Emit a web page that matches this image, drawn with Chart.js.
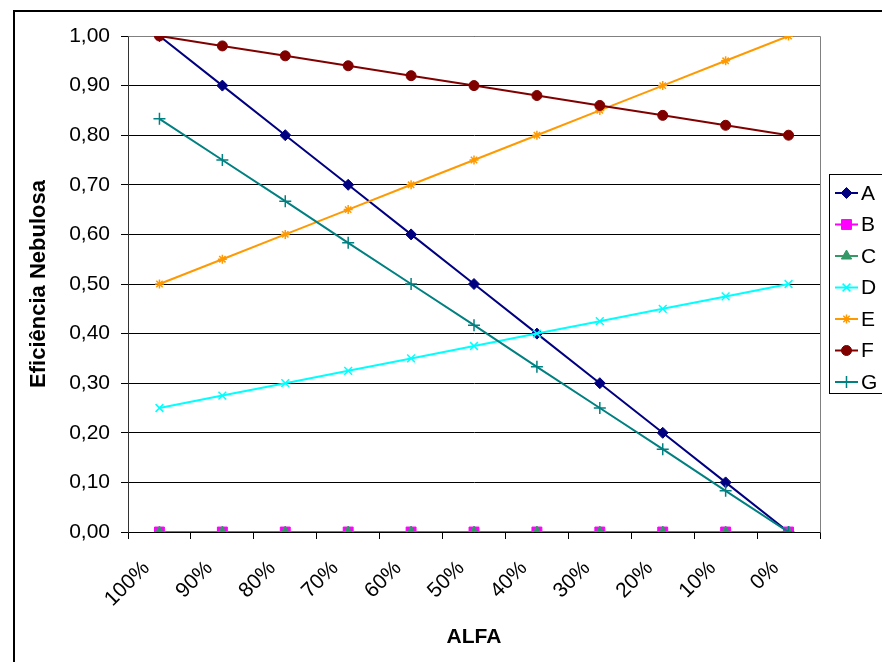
<!DOCTYPE html>
<html>
<head>
<meta charset="utf-8">
<title>Eficiência Nebulosa x ALFA</title>
<script src="https://cdn.jsdelivr.net/npm/chart.js@4.4.0/dist/chart.umd.min.js"></script>
<style>
  html, body { margin: 0; padding: 0; background: #fff; }
  #wrap { width: 882px; height: 662px; position: relative; }
</style>
</head>
<body>
<div id="wrap"><canvas id="c" width="882" height="662"></canvas></div>
<script>
// Categories (ALFA) and series values (Eficiência Nebulosa)
const categories = ['100%', '90%', '80%', '70%', '60%', '50%', '40%', '30%', '20%', '10%', '0%'];
const seriesNames = ['A', 'B', 'C', 'D', 'E', 'F', 'G'];
const serieA = [1.00, 0.90, 0.80, 0.70, 0.60, 0.50, 0.40, 0.30, 0.20, 0.10, 0.00];
const serieB = [0, 0, 0, 0, 0, 0, 0, 0, 0, 0, 0];
const serieC = [0, 0, 0, 0, 0, 0, 0, 0, 0, 0, 0];
const serieD = [0.250, 0.275, 0.300, 0.325, 0.350, 0.375, 0.400, 0.425, 0.450, 0.475, 0.500];
const serieE = [0.50, 0.55, 0.60, 0.65, 0.70, 0.75, 0.80, 0.85, 0.90, 0.95, 1.00];
const serieF = [1.00, 0.98, 0.96, 0.94, 0.92, 0.90, 0.88, 0.86, 0.84, 0.82, 0.80];
const serieG = [0.833, 0.750, 0.667, 0.583, 0.500, 0.417, 0.333, 0.250, 0.167, 0.083, 0.000];
const yTicks = [0, 0.1, 0.2, 0.3, 0.4, 0.5, 0.6, 0.7, 0.8, 0.9, 1.0];

const FONT = 'Arial, "Liberation Sans", sans-serif';
Chart.defaults.font.family = FONT;
Chart.defaults.color = '#000';

const styles = [
  { color: '#000080', point: 'rectRot', radius: 5.5 },
  { color: '#FF00FF', point: 'rect', radius: 7 },
  { color: '#339966', point: 'triangle', radius: 6 },
  { color: '#00FFFF', point: 'crossRot', radius: 5.5 },
  { color: '#FF9900', point: 'star', radius: 4.5 },
  { color: '#800000', point: 'circle', radius: 5 },
  { color: '#008080', point: 'cross', radius: 6 }
];
const values = [serieA, serieB, serieC, serieD, serieE, serieF, serieG];

const datasets = seriesNames.map((name, i) => ({
  label: name,
  data: values[i],
  borderColor: styles[i].color,
  backgroundColor: styles[i].color,
  pointBackgroundColor: styles[i].color,
  pointBorderColor: styles[i].color,
  pointStyle: styles[i].point,
  pointRadius: styles[i].radius,
  pointHoverRadius: styles[i].radius,
  pointBorderWidth: (styles[i].point === 'cross' || styles[i].point === 'crossRot' || styles[i].point === 'star') ? 1.5 : 1,
  borderWidth: 2,
  tension: 0,
  fill: false,
  order: seriesNames.length - 1 - i
}));

const fmt = v => v.toFixed(2).replace('.', ',');

// Gray plot-area frame (top and right) plus outer chart border and legend
const framePlugin = {
  id: 'frame',
  beforeDatasetsDraw(chart) {
    const { ctx, chartArea: a } = chart;
    ctx.save();
    ctx.strokeStyle = '#808080';
    ctx.lineWidth = 1;
    ctx.beginPath();
    ctx.moveTo(Math.round(a.left) + 0.5, Math.round(a.top) + 0.5);
    ctx.lineTo(Math.round(a.right) + 0.5, Math.round(a.top) + 0.5);
    ctx.lineTo(Math.round(a.right) + 0.5, Math.round(a.bottom) + 0.5);
    ctx.stroke();
    ctx.restore();
  },
  afterDraw(chart) {
    const { ctx } = chart;
    ctx.save();
    // outer border
    ctx.strokeStyle = '#000';
    ctx.lineWidth = 2;
    ctx.beginPath();
    ctx.moveTo(14, 700);
    ctx.lineTo(14, 11);
    ctx.lineTo(900, 11);
    ctx.stroke();

    // legend
    ctx.lineWidth = 1;
    ctx.fillStyle = '#fff';
    ctx.fillRect(829.5, 174.5, 80, 219);
    ctx.strokeStyle = '#000';
    ctx.strokeRect(829.5, 174.5, 80, 219);
    ctx.font = '21px ' + FONT;
    ctx.textBaseline = 'middle';
    ctx.textAlign = 'left';
    chart.data.datasets.forEach((ds, i) => {
      const y = 193 + i * 31.5;
      ctx.strokeStyle = ds.borderColor;
      ctx.lineWidth = 2;
      ctx.beginPath();
      ctx.moveTo(835, y);
      ctx.lineTo(858, y);
      ctx.stroke();
      ctx.fillStyle = ds.pointBackgroundColor;
      ctx.strokeStyle = ds.pointBorderColor;
      ctx.lineWidth = ds.pointBorderWidth;
      Chart.helpers.drawPoint(ctx, {
        pointStyle: ds.pointStyle,
        radius: ds.pointRadius,
        borderWidth: ds.pointBorderWidth,
        rotation: 0
      }, 846.5, y);
      ctx.fillStyle = '#000';
      ctx.fillText(ds.label, 861, y + 1);
    });
    ctx.restore();
  }
};

new Chart(document.getElementById('c'), {
  type: 'line',
  data: { labels: categories, datasets },
  options: {
    responsive: false,
    animation: false,
    devicePixelRatio: 1,
    layout: { padding: { top: 36, right: 62, left: 0, bottom: 0 } },
    plugins: {
      legend: { display: false },
      tooltip: { enabled: false }
    },
    scales: {
      x: {
        type: 'category',
        offset: true,
        grid: {
          offset: true,
          drawOnChartArea: false,
          drawTicks: true,
          tickLength: 7,
          color: '#000',
          lineWidth: 1
        },
        border: { display: true, color: '#000', width: 1 },
        ticks: {
          autoSkip: false,
          maxRotation: 45,
          minRotation: 45,
          padding: 17,
          labelOffset: -13,
          font: { size: 21 },
          color: '#000'
        },
        title: {
          display: true,
          text: 'ALFA',
          font: { size: 21, weight: 'bold' },
          color: '#000',
          padding: { top: 0, bottom: 12 }
        },
        afterFit(axis) { axis.height = 130; }
      },
      y: {
        min: 0,
        max: 1,
        afterBuildTicks(axis) { axis.ticks = yTicks.map(v => ({ value: v })); },
        grid: {
          color: '#000',
          tickColor: '#000',
          lineWidth: 1,
          drawTicks: true,
          tickLength: 7
        },
        border: { display: true, color: '#333', width: 1 },
        ticks: {
          padding: 11,
          font: { size: 21 },
          color: '#000',
          callback: v => fmt(v)
        },
        title: {
          display: true,
          text: 'Eficiência Nebulosa',
          font: { size: 22, weight: 'bold' },
          color: '#000',
          padding: { top: 26, bottom: 0 }
        },
        afterFit(axis) { axis.width = 128; }
      }
    }
  },
  plugins: [framePlugin]
});
</script>
</body>
</html>
